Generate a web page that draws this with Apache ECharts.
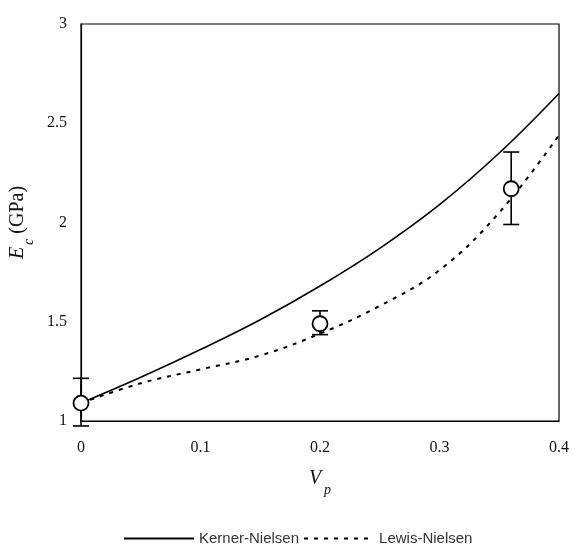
<!DOCTYPE html>
<html>
<head>
<meta charset="utf-8">
<script src="https://cdn.jsdelivr.net/npm/echarts@6/dist/echarts.min.js"></script>
<style>
  html, body { margin: 0; padding: 0; background: #fff; }
  #chart { width: 574px; height: 557px; }
</style>
</head>
<body>
<div id="chart"></div>
<script>
// model curves
const vpGrid = [0, 0.05, 0.1, 0.15, 0.2, 0.25, 0.3, 0.35, 0.4];
const kernerNielsen = [1.09, 1.22, 1.36, 1.51, 1.68, 1.87, 2.09, 2.35, 2.65];
const lewisNielsen = [1.09, 1.19, 1.26, 1.33, 1.44, 1.58, 1.76, 2.05, 2.44];

// measured points with error bars
const expVp = [0, 0.2, 0.36];
const expMean = [1.09, 1.49, 2.17];
const expLow = [0.975, 1.435, 1.99];
const expHigh = [1.215, 1.555, 2.355];

const xTicks = [0, 0.1, 0.2, 0.3, 0.4];
const yTicks = [1, 1.5, 2, 2.5, 3];

const serif = '"Liberation Serif", "DejaVu Serif", serif';
const sans = '"Liberation Sans", Arial, sans-serif';

const chart = echarts.init(document.getElementById('chart'));

const pair = (xs, ys) => xs.map((x, i) => [x, ys[i]]);

chart.setOption({
  animation: false,
  grid: {
    left: 81, right: 15, top: 24, bottom: 136,
    outerBoundsMode: 'none',
    containLabel: false,
    show: true, borderColor: '#000', borderWidth: 1.2
  },
  legend: {
    data: ['Kerner-Nielsen', 'Lewis-Nielsen'],
    bottom: 6,
    left: 118,
    itemWidth: 70,
    itemHeight: 12,
    itemGap: 4,
    itemStyle: { opacity: 0 },
    textStyle: { fontFamily: sans, fontSize: 15, color: '#333' }
  },
  xAxis: {
    type: 'value',
    min: xTicks[0], max: xTicks[xTicks.length - 1], interval: 0.1,
    axisLine: { show: true, lineStyle: { color: '#000', width: 1.2 } },
    axisTick: { show: false },
    splitLine: { show: false },
    axisLabel: {
      margin: 19, fontFamily: serif, fontSize: 16, color: '#111',
      formatter: v => String(+v.toFixed(1))
    },
    name: '{i|V}{s|p}',
    nameLocation: 'middle',
    nameGap: 48,
    nameTextStyle: {
      rich: {
        i: { fontFamily: serif, fontStyle: 'italic', fontSize: 20, color: '#111', lineHeight: 28, verticalAlign: 'top' },
        s: { fontFamily: serif, fontStyle: 'italic', fontSize: 14, color: '#111', lineHeight: 28, verticalAlign: 'bottom', padding: [0, 0, 0, 3] }
      }
    }
  },
  yAxis: {
    type: 'value',
    min: yTicks[0], max: yTicks[yTicks.length - 1], interval: 0.5,
    axisLine: { show: true, lineStyle: { color: '#000', width: 1.2 } },
    axisTick: { show: false },
    splitLine: { show: false },
    axisLabel: { margin: 14, fontFamily: serif, fontSize: 16, color: '#111' },
    name: '{i|E}{s|c}{t| (GPa)}',
    nameLocation: 'middle',
    nameGap: 40,
    nameRotate: 90,
    nameTextStyle: {
      rich: {
        i: { fontFamily: serif, fontStyle: 'italic', fontSize: 20, color: '#111', lineHeight: 28, verticalAlign: 'top' },
        s: { fontFamily: serif, fontStyle: 'italic', fontSize: 14, color: '#111', lineHeight: 28, verticalAlign: 'bottom', padding: [0, 0, 0, 2] },
        t: { fontFamily: serif, fontSize: 20, color: '#111', lineHeight: 28, verticalAlign: 'top' }
      }
    }
  },
  series: [
    {
      name: 'Kerner-Nielsen',
      type: 'line',
      data: pair(vpGrid, kernerNielsen),
      smooth: 0.4,
      symbol: 'none',
      lineStyle: { color: '#000', width: 1.6 },
      itemStyle: { color: '#000' },
      z: 2
    },
    {
      name: 'Lewis-Nielsen',
      type: 'line',
      data: pair(vpGrid, lewisNielsen),
      smooth: 0.4,
      symbol: 'none',
      lineStyle: { color: '#000', width: 2, type: [4, 6] },
      itemStyle: { color: '#000' },
      z: 2
    },
    {
      name: 'error',
      type: 'custom',
      clip: false,
      data: expVp.map((x, i) => [x, expLow[i], expHigh[i]]),
      renderItem: (params, api) => {
        const lo = api.coord([api.value(0), api.value(1)]);
        const hi = api.coord([api.value(0), api.value(2)]);
        const cap = 8;
        const style = { stroke: '#000', lineWidth: 1.6 };
        return {
          type: 'group',
          children: [
            { type: 'line', shape: { x1: lo[0], y1: lo[1], x2: hi[0], y2: hi[1] }, style },
            { type: 'line', shape: { x1: lo[0] - cap, y1: lo[1], x2: lo[0] + cap, y2: lo[1] }, style },
            { type: 'line', shape: { x1: hi[0] - cap, y1: hi[1], x2: hi[0] + cap, y2: hi[1] }, style }
          ]
        };
      },
      z: 3
    },
    {
      name: 'measured',
      type: 'scatter',
      data: pair(expVp, expMean),
      symbol: 'circle',
      symbolSize: 15,
      clip: false,
      itemStyle: { color: '#fff', borderColor: '#000', borderWidth: 1.8, opacity: 1 },
      z: 4
    }
  ]
});
</script>
</body>
</html>
